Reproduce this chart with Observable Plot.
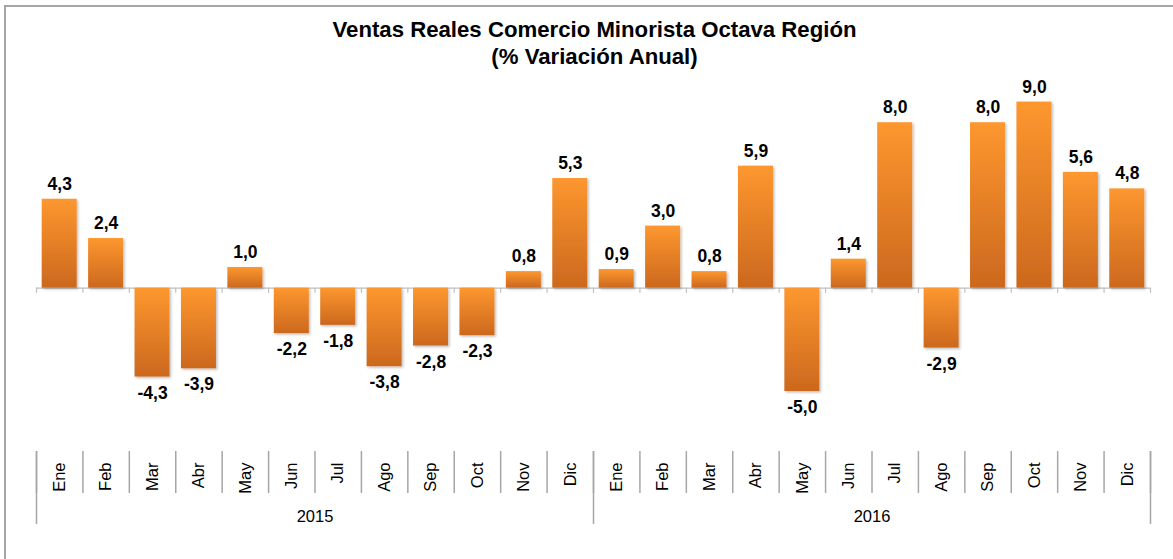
<!DOCTYPE html>
<html>
<head>
<meta charset="utf-8">
<script src="https://cdn.jsdelivr.net/npm/d3@7"></script>
<script src="https://cdn.jsdelivr.net/npm/@observablehq/plot@0.6"></script>
<style>
  html, body { margin: 0; padding: 0; background: #fff; overflow: hidden; }
  #wrap { position: relative; width: 1173px; height: 559px; }
  #frame { position: absolute; left: 4px; top: 5px; width: 1300px; height: 700px;
           border-left: 2px solid #a6a6a6; border-top: 2px solid #a6a6a6; box-sizing: border-box; }
  #title { position: relative; height: 70px; box-sizing: border-box; padding-top: 16px; padding-left: 16px;
           text-align: center; font-family: "Liberation Sans", Arial, sans-serif; font-weight: bold;
           font-size: 22.2px; line-height: 27px; color: #000; }
  #chart { position: relative; }
</style>
</head>
<body>
<div id="wrap">
  <div id="frame"></div>
  <div id="title">Ventas Reales Comercio Minorista Octava Región<br>(% Variación Anual)</div>
  <div id="chart"></div>
</div>
<script>
const months = ["Ene","Feb","Mar","Abr","May","Jun","Jul","Ago","Sep","Oct","Nov","Dic"];
const years = ["2015","2016"];
const values2015 = [4.3, 2.4, -4.3, -3.9, 1.0, -2.2, -1.8, -3.8, -2.8, -2.3, 0.8, 5.3];
const values2016 = [0.9, 3.0, 0.8, 5.9, -5.0, 1.4, 8.0, -2.9, 8.0, 9.0, 5.6, 4.8];

const data = [];
[values2015, values2016].forEach((vals, yi) => {
  vals.forEach((v, mi) => data.push({i: yi * 12 + mi, month: months[mi], year: years[yi], v}));
});
const n = data.length;
const bounds = d3.range(n + 1);
const centers = data.map(d => d.i + 0.5);
const yearBounds = d3.range(years.length + 1).map(k => k * 12);
const yearCenters = years.map((y, k) => k * 12 + 6);
const fmt = v => v.toFixed(1).replace(".", ",");
const font = "Liberation Sans, Arial, sans-serif";
const gray = "#a6a6a6";

const plot = Plot.plot({
  width: 1173,
  height: 489,
  marginLeft: 36,
  marginRight: 23,
  marginTop: 15,
  marginBottom: 108,
  style: {fontFamily: font, background: "transparent", overflow: "visible"},
  x: {domain: [0, n], axis: null, label: null},
  y: {domain: [-7.9, 9.8], axis: null, label: null},
  marks: [
    Plot.ruleY([0], {stroke: "#bfbfbf", strokeWidth: 1.2}),
    Plot.ruleX(bounds, {x: d => d, y1: 0, y2: -0.25, stroke: "#bfbfbf", strokeWidth: 1.2}),
    Plot.rectY(data, {x1: "i", x2: d => d.i + 1, y: "v", insetLeft: 5.7, insetRight: 5.7,
      fill: "url(#barGrad)", className: "bars"}),
    Plot.text(data.filter(d => d.v >= 0), {x: d => d.i + 0.5, y: "v", text: d => fmt(d.v), dy: -15,
      fontSize: 17.5, fontWeight: "bold", fill: "#000"}),
    Plot.text(data.filter(d => d.v < 0), {x: d => d.i + 0.5, y: "v", text: d => fmt(d.v), dy: 16,
      fontSize: 17.5, fontWeight: "bold", fill: "#000"}),
    // month separators
    Plot.axisX(bounds, {anchor: "bottom", label: null, tickSize: 42, tickFormat: () => "", stroke: gray, strokeWidth: 1.5}),
    // year separators
    Plot.axisX(yearBounds, {anchor: "bottom", label: null, tickSize: 73, tickFormat: () => "", stroke: gray, strokeWidth: 1.5}),
    // month labels
    Plot.axisX(centers, {anchor: "bottom", label: null, tickSize: 0, tickPadding: 11, tickRotate: -90,
      textAnchor: "end", lineAnchor: "middle",
      tickFormat: c => months[Math.floor(c) % 12], fontSize: 16.5, fill: "#000"}),
    // year labels
    Plot.axisX(yearCenters, {anchor: "bottom", label: null, tickSize: 0, tickPadding: 59,
      tickFormat: c => years[Math.floor(c / 12)], fontSize: 16.5, fill: "#000"})
  ]
});

const ns = "http://www.w3.org/2000/svg";
const defs = document.createElementNS(ns, "defs");
defs.innerHTML = `
  <linearGradient id="barGrad" x1="0" y1="0" x2="0" y2="1">
    <stop offset="0%" stop-color="#fd972f"/>
    <stop offset="100%" stop-color="#cc681e"/>
  </linearGradient>
  <filter id="barShadow" x="-20%" y="-20%" width="140%" height="140%">
    <feDropShadow dx="1.5" dy="1.5" stdDeviation="1.2" flood-color="#000" flood-opacity="0.25"/>
  </filter>`;
plot.insertBefore(defs, plot.firstChild);
plot.querySelectorAll(".bars").forEach(g => g.setAttribute("filter", "url(#barShadow)"));
document.getElementById("chart").appendChild(plot);
</script>
</body>
</html>
